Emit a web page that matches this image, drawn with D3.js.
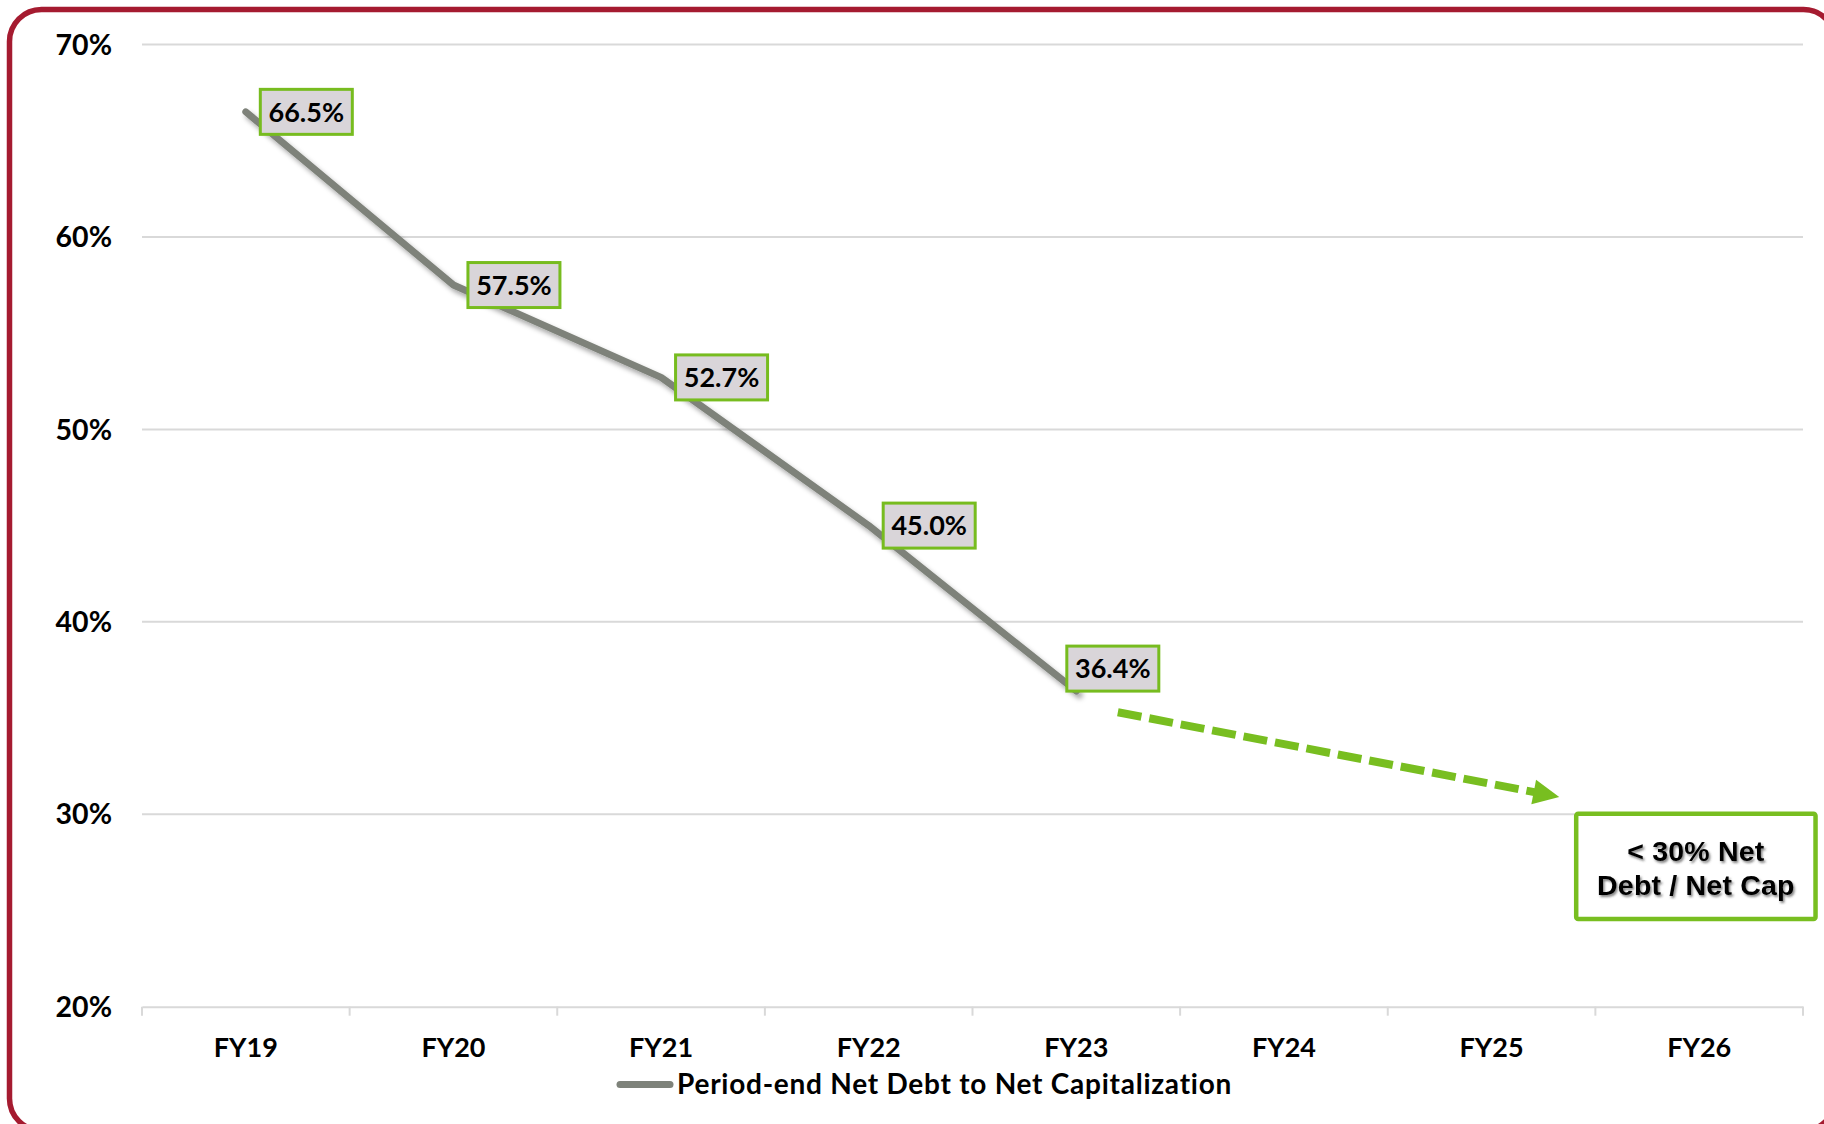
<!DOCTYPE html>
<html>
<head>
<meta charset="utf-8">
<script src="https://cdn.jsdelivr.net/npm/d3@7"></script>
<style>
  html, body { margin: 0; padding: 0; background: #ffffff; }
  svg { display: block; }
</style>
</head>
<body>
<svg id="chart" width="1824" height="1124"></svg>
<script>
// ---- data ----
const categories = ["FY19", "FY20", "FY21", "FY22", "FY23", "FY24", "FY25", "FY26"];
const actualCategories = ["FY19", "FY20", "FY21", "FY22", "FY23"];
const netDebtToCap = [66.5, 57.5, 52.7, 45.0, 36.4];
const yTicks = [20, 30, 40, 50, 60, 70];
const seriesName = "Period-end Net Debt to Net Capitalization";
const targetLines = ["< 30% Net", "Debt / Net Cap"];
// projected trend arrow: [category index position, value %]
const trendStart = [4.70, 35.3];
const trendEnd = [6.826, 30.9];
// target box extent: category-index positions and values
const targetBoxX = [6.898, 8.07];
const targetBoxY = [30.13, 24.45];

// ---- layout ----
const plot = { left: 142, right: 1803, top: 44.5, bottom: 1006.7 };
const svg = d3.select("#chart");
const FONT = "Lato, 'Open Sans', sans-serif";

const defs = svg.append("defs");
const sh = defs.append("filter").attr("id", "lineShadow")
  .attr("x", "-10%").attr("y", "-10%").attr("width", "130%").attr("height", "130%");
sh.append("feDropShadow").attr("dx", 3).attr("dy", 4).attr("stdDeviation", 2.5)
  .attr("flood-color", "#000").attr("flood-opacity", 0.35);
const tsh = defs.append("filter").attr("id", "textShadow")
  .attr("x", "-10%").attr("y", "-30%").attr("width", "130%").attr("height", "170%");
tsh.append("feDropShadow").attr("dx", 1.5).attr("dy", 2).attr("stdDeviation", 1.2)
  .attr("flood-color", "#333").attr("flood-opacity", 0.6);

// outer frame
svg.append("rect")
  .attr("x", 9.5).attr("y", 9.5).attr("width", 1826).attr("height", 1121)
  .attr("rx", 32).attr("ry", 32)
  .attr("fill", "none").attr("stroke", "#a51b30").attr("stroke-width", 5.5);

// scales
const x = d3.scaleBand().domain(categories).range([plot.left, plot.right]).paddingInner(0).paddingOuter(0);
const xi = d3.scaleLinear().domain([0, categories.length]).range([plot.left, plot.right]);
const y = d3.scaleLinear().domain([20, 70]).range([plot.bottom, plot.top]);

// gridlines
svg.append("g").selectAll("line").data(yTicks.filter(t => t !== 20)).join("line")
  .attr("x1", plot.left).attr("x2", plot.right)
  .attr("y1", d => y(d)).attr("y2", d => y(d))
  .attr("stroke", "#d9d9d9").attr("stroke-width", 2);

// y axis labels
const yAxis = d3.axisLeft(y).tickValues(yTicks).tickFormat(d => d + "%").tickSize(0).tickPadding(0);
const yg = svg.append("g").attr("transform", `translate(${112},0)`).call(yAxis);
yg.select(".domain").remove();
yg.selectAll("text")
  .attr("font-family", FONT).attr("font-weight", 700).attr("font-size", 28.5)
  .attr("fill", "#000").attr("dy", "0.34em");

// x axis
const xAxis = d3.axisBottom(x).tickSize(0).tickPadding(0);
const xg = svg.append("g").attr("transform", `translate(0,${plot.bottom})`).call(xAxis);
xg.select(".domain").attr("stroke", "#d9d9d9").attr("stroke-width", 2);
xg.selectAll("text")
  .attr("font-family", FONT).attr("font-weight", 700).attr("font-size", 27)
  .attr("fill", "#000").attr("y", 50).attr("dy", 0);
// boundary tick marks
svg.append("g").selectAll("line").data(d3.range(categories.length + 1)).join("line")
  .attr("x1", d => xi(d)).attr("x2", d => xi(d))
  .attr("y1", plot.bottom).attr("y2", plot.bottom + 9)
  .attr("stroke", "#d9d9d9").attr("stroke-width", 2);

// series line
const pts = actualCategories.map((c, i) => ({ c, v: netDebtToCap[i] }));
const line = d3.line().x(d => x(d.c) + x.bandwidth() / 2).y(d => y(d.v));
svg.append("path").datum(pts)
  .attr("d", line)
  .attr("fill", "none").attr("stroke", "#7e827a").attr("stroke-width", 7)
  .attr("stroke-linecap", "round").attr("stroke-linejoin", "round")
  .attr("filter", "url(#lineShadow)");

// trend arrow
const sx = xi(trendStart[0]), sy = y(trendStart[1]);
const ex = xi(trendEnd[0]), ey = y(trendEnd[1]);
const len = Math.hypot(ex - sx, ey - sy);
const ux = (ex - sx) / len, uy = (ey - sy) / len;
const headLen = 26, headHalf = 12.5;
const bx = ex - ux * headLen, by = ey - uy * headLen;
svg.append("line")
  .attr("x1", sx).attr("y1", sy).attr("x2", bx + ux * 2).attr("y2", by + uy * 2)
  .attr("stroke", "#78be20").attr("stroke-width", 8)
  .attr("stroke-dasharray", "24 8");
svg.append("path")
  .attr("d", `M${ex},${ey} L${bx - uy * headHalf},${by + ux * headHalf} L${bx + uy * headHalf},${by - ux * headHalf} Z`)
  .attr("fill", "#78be20");

// data labels
const labels = svg.append("g");
pts.forEach((d, i) => {
  const px = x(d.c) + x.bandwidth() / 2, py = y(d.v);
  const bw = 92, bh = 45;
  let lx, ly;
  if (i === pts.length - 1) { lx = px - 9.5; ly = py - bh; }
  else { lx = px + 14.5; ly = py - bh / 2; }
  labels.append("rect")
    .attr("x", lx).attr("y", ly).attr("width", bw).attr("height", bh)
    .attr("fill", "#d9d5d9").attr("stroke", "#77bc1f").attr("stroke-width", 3);
  labels.append("text")
    .attr("x", lx + bw / 2).attr("y", ly + bh / 2)
    .attr("dy", "0.36em").attr("text-anchor", "middle")
    .attr("font-family", FONT).attr("font-weight", 700).attr("font-size", 27)
    .attr("fill", "#000").text(d.v.toFixed(1) + "%");
});

// target box
const tx0 = xi(targetBoxX[0]), tx1 = xi(targetBoxX[1]);
const ty0 = y(targetBoxY[0]), ty1 = y(targetBoxY[1]);
svg.append("rect")
  .attr("x", tx0 + 2).attr("y", ty0 + 2).attr("width", tx1 - tx0 - 4).attr("height", ty1 - ty0 - 4)
  .attr("rx", 2).attr("fill", "#ffffff").attr("stroke", "#78be20").attr("stroke-width", 4.5);
const tt = svg.append("text")
  .attr("text-anchor", "middle")
  .attr("font-family", "'Liberation Sans', Arial, sans-serif").attr("font-weight", 700)
  .attr("font-size", 28.5).attr("letter-spacing", 0.2).attr("fill", "#000")
  .attr("filter", "url(#textShadow)");
tt.selectAll("tspan").data(targetLines).join("tspan")
  .attr("x", (tx0 + tx1) / 2)
  .attr("y", (d, i) => 860.5 + i * 34.5)
  .text(d => d);

// legend
const lg = svg.append("g");
lg.append("line")
  .attr("x1", 620).attr("x2", 670).attr("y1", 1084.5).attr("y2", 1084.5)
  .attr("stroke", "#7e827a").attr("stroke-width", 7).attr("stroke-linecap", "round");
lg.append("text")
  .attr("x", 677).attr("y", 1094)
  .attr("font-family", FONT).attr("font-weight", 700).attr("font-size", 28)
  .attr("letter-spacing", 0.75)
  .attr("fill", "#000").text(seriesName);
</script>
</body>
</html>
